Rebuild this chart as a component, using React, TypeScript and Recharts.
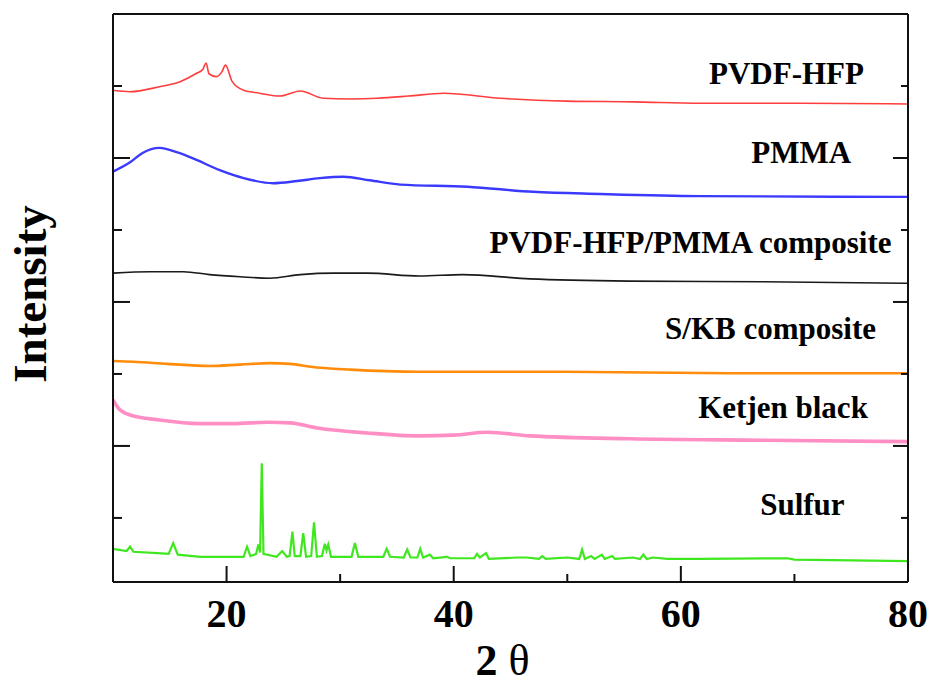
import { LineChart, Line, XAxis, YAxis, ReferenceDot, Label } from 'recharts';

// XRD patterns, 2θ (deg) vs intensity (a.u., curves stacked)
const pvdfHfp = [
  [10.0, 6.94], [11.5, 6.92], [14.1, 6.99], [15.9, 7.06], [17.4, 7.18], [17.9, 7.23],
  [18.2, 7.32], [18.45, 7.17], [19.1, 7.13], [19.6, 7.2], [19.9, 7.29], [20.5, 7.06],
  [21.5, 6.94], [22.9, 6.9], [24.7, 6.86], [26.5, 6.93], [28.5, 6.83], [30.9, 6.82],
  [33.3, 6.83], [36.0, 6.86], [39.1, 6.9], [44.1, 6.83], [50.0, 6.79], [55.8, 6.78],
  [61.7, 6.76], [70.5, 6.76], [80.0, 6.75],
];
const pmma = [
  [10.0, 5.81], [11.5, 5.94], [12.6, 6.07], [14.1, 6.14], [15.6, 6.08], [17.4, 5.97],
  [19.4, 5.83], [21.5, 5.72], [24.1, 5.65], [26.2, 5.68], [28.2, 5.72], [30.3, 5.74],
  [32.6, 5.69], [35.3, 5.63], [41.2, 5.6], [47.0, 5.53], [52.9, 5.5], [61.7, 5.47], [80.0, 5.46],
];
const blend = [
  [10.0, 4.4], [13.3, 4.42], [16.2, 4.42], [18.5, 4.38], [21.2, 4.35], [23.8, 4.33],
  [26.5, 4.38], [29.4, 4.4], [32.4, 4.4], [37.0, 4.36], [40.8, 4.38], [46.7, 4.32],
  [55.5, 4.29], [67.2, 4.28], [80.0, 4.26],
];
const skb = [
  [10.0, 3.18], [11.8, 3.17], [14.8, 3.14], [18.5, 3.11], [21.2, 3.13], [23.8, 3.15],
  [25.6, 3.14], [27.4, 3.1], [30.9, 3.06], [37.0, 3.03], [49.6, 3.03], [64.3, 3.01], [80.0, 3.01],
];
const ketjen = [
  [10.0, 2.64], [10.5, 2.52], [11.5, 2.43], [14.1, 2.36], [17.7, 2.31], [20.6, 2.31],
  [23.6, 2.33], [25.6, 2.32], [28.0, 2.25], [32.4, 2.18], [37.0, 2.14], [40.0, 2.15],
  [43.0, 2.19], [46.7, 2.14], [55.5, 2.1], [67.2, 2.08], [80.0, 2.06],
];
const sulfur = [
  [10.0, 0.57], [11.2, 0.54], [11.5, 0.6], [11.8, 0.53], [13.9, 0.51], [14.9, 0.5],
  [15.3, 0.65], [15.7, 0.49], [17.7, 0.46], [21.5, 0.46], [21.8, 0.6], [22.1, 0.47],
  [22.6, 0.5], [22.8, 0.63], [22.95, 0.52], [23.1, 1.76], [23.25, 0.5], [24.4, 0.46],
  [24.9, 0.54], [25.3, 0.46], [25.55, 0.47], [25.8, 0.81], [26.0, 0.47], [26.5, 0.47],
  [26.75, 0.79], [27.0, 0.46], [27.45, 0.47], [27.7, 0.94], [27.95, 0.46], [28.4, 0.47],
  [28.65, 0.64], [28.8, 0.55], [28.95, 0.63], [29.2, 0.46], [31.0, 0.46], [31.3, 0.65],
  [31.6, 0.46], [33.8, 0.46], [34.1, 0.57], [34.4, 0.46], [35.6, 0.45], [35.9, 0.56],
  [36.2, 0.45], [36.8, 0.45], [37.05, 0.57], [37.3, 0.45], [37.9, 0.49], [38.2, 0.44],
  [39.4, 0.46], [39.7, 0.44], [41.8, 0.44], [42.05, 0.5], [42.3, 0.45], [42.85, 0.51],
  [43.1, 0.43], [45.6, 0.45], [46.4, 0.45], [47.5, 0.43], [47.8, 0.47], [48.1, 0.43],
  [50.0, 0.45], [51.05, 0.43], [51.3, 0.56], [51.55, 0.43], [52.1, 0.47], [52.4, 0.43],
  [53.05, 0.49], [53.3, 0.43], [53.95, 0.47], [54.2, 0.43], [55.8, 0.45], [56.4, 0.43],
  [56.7, 0.49], [57.0, 0.43], [57.55, 0.45], [58.8, 0.43], [61.7, 0.43], [69.4, 0.44],
  [70.0, 0.42], [80.0, 0.4],
];

const xTicks = [10, 20, 30, 40, 50, 60, 70, 80];
const xLabels = [20, 40, 60, 80];
const yTicks = [1, 2, 3, 4, 5, 6, 7, 8];

const series = [
  { key: 'pvdf', data: pvdfHfp, color: '#ff3d3d', width: 1.6, curve: 'monotone' },
  { key: 'pmma', data: pmma, color: '#3a3aff', width: 2.4, curve: 'monotone' },
  { key: 'blend', data: blend, color: '#1a1a1a', width: 1.6, curve: 'monotone' },
  { key: 'skb', data: skb, color: '#ff8c0a', width: 2.6, curve: 'monotone' },
  { key: 'kb', data: ketjen, color: '#ff8ec4', width: 3.6, curve: 'monotone' },
  { key: 's', data: sulfur, color: '#3fe81e', width: 2.2, curve: 'linear' },
];

const notes = [
  { text: 'PVDF-HFP', x: 69.3, y: 7.03 },
  { text: 'PMMA', x: 70.6, y: 5.93 },
  { text: 'PVDF-HFP/PMMA composite', x: 60.85, y: 4.68 },
  { text: 'S/KB composite', x: 67.9, y: 3.49 },
  { text: 'Ketjen black', x: 69.0, y: 2.39 },
  { text: 'Sulfur', x: 70.7, y: 1.04 },
];

const FONT = '"Liberation Serif", "Times New Roman", serif';
const INK = '#111';

const toPoints = (d: number[][]) => d.map(([x, y]) => ({ x, y }));

const BottomTick = ({ x, y, payload }: any) => {
  const v = payload.value;
  const len = v % 20 === 0 ? 16 : 8;
  return (
    <g>
      <line x1={x} y1={y} x2={x} y2={y - len} stroke={INK} strokeWidth={2} />
      {xLabels.includes(v) && (
        <text x={x} y={y + 45} textAnchor="middle" fontSize={40} fontWeight="bold" fontFamily={FONT} fill="#000">
          {v}
        </text>
      )}
    </g>
  );
};

const TopTick = ({ x, y, payload }: any) => {
  const len = payload.value % 20 === 0 ? 16 : 8;
  return <line x1={x} y1={y} x2={x} y2={y + len} stroke={INK} strokeWidth={2} />;
};

const LeftTick = ({ x, y, payload }: any) => {
  const len = payload.value % 2 === 0 ? 17 : 9;
  return <line x1={x} y1={y} x2={x + len} y2={y} stroke={INK} strokeWidth={2} />;
};

const RightTick = ({ x, y, payload }: any) => {
  const len = payload.value % 2 === 0 ? 15 : 7;
  return <line x1={x} y1={y} x2={x - len} y2={y} stroke={INK} strokeWidth={2} />;
};

const noteRenderer = (text: string) => (p: any) => {
  const vb = p.viewBox;
  return (
    <text
      x={vb.x + (vb.width || 0) / 2}
      y={vb.y + (vb.height || 0) / 2}
      textAnchor="middle"
      fontSize={31}
      fontWeight="bold"
      fontFamily={FONT}
      fill="#000"
    >
      {text}
    </text>
  );
};

export default function App() {
  const axisLine = { stroke: INK, strokeWidth: 2 };
  return (
    <div style={{ position: 'absolute', left: 0, top: 0, background: '#fff' }}>
      <LineChart width={932} height={688} margin={{ top: 13, right: 23, bottom: 105, left: 112 }}>
        <XAxis
          xAxisId="b"
          type="number"
          dataKey="x"
          domain={[10, 80]}
          ticks={xTicks}
          allowDataOverflow
          height={1}
          tickSize={0}
          tickMargin={0}
          tickLine={false}
          axisLine={axisLine}
          tick={<BottomTick />}
          interval={0}
        >
          <Label
            content={(p: any) => {
              const vb = p.viewBox;
              return (
                <text x={vb.x + vb.width / 2 - 8} y={vb.y + 93} textAnchor="middle" fontSize={44} fontFamily={FONT} fill="#000">
                  <tspan fontWeight="bold">2</tspan>
                  <tspan> θ</tspan>
                </text>
              );
            }}
          />
        </XAxis>
        <XAxis
          xAxisId="t"
          orientation="top"
          type="number"
          domain={[10, 80]}
          ticks={xTicks}
          allowDataOverflow
          height={1}
          tickSize={0}
          tickMargin={0}
          tickLine={false}
          axisLine={axisLine}
          tick={<TopTick />}
          interval={0}
        />
        <YAxis
          yAxisId="l"
          type="number"
          domain={[0.11, 8]}
          ticks={yTicks}
          allowDataOverflow
          width={1}
          tickSize={0}
          tickMargin={0}
          tickLine={false}
          axisLine={axisLine}
          tick={<LeftTick />}
          interval={0}
        >
          <Label
            content={(p: any) => {
              const vb = p.viewBox;
              const cx = vb.x + vb.width - 67;
              const cy = vb.y + vb.height / 2 - 4;
              return (
                <text
                  x={cx}
                  y={cy}
                  transform={`rotate(-90, ${cx}, ${cy})`}
                  textAnchor="middle"
                  fontSize={47}
                  fontWeight="bold"
                  fontFamily={FONT}
                  fill="#000"
                >
                  Intensity
                </text>
              );
            }}
          />
        </YAxis>
        <YAxis
          yAxisId="r"
          orientation="right"
          type="number"
          domain={[0.11, 8]}
          ticks={yTicks}
          allowDataOverflow
          width={1}
          tickSize={0}
          tickMargin={0}
          tickLine={false}
          axisLine={axisLine}
          tick={<RightTick />}
          interval={0}
        />
        {series.map((s) => (
          <Line
            key={s.key}
            xAxisId="b"
            yAxisId="l"
            data={toPoints(s.data)}
            dataKey="y"
            type={s.curve as any}
            stroke={s.color}
            strokeWidth={s.width}
            dot={false}
            activeDot={false}
            isAnimationActive={false}
          />
        ))}
        {notes.map((n) => (
          <ReferenceDot
            key={n.text}
            xAxisId="b"
            yAxisId="l"
            x={n.x}
            y={n.y}
            r={0}
            fill="none"
            stroke="none"
            label={noteRenderer(n.text)}
          />
        ))}
      </LineChart>
    </div>
  );
}
